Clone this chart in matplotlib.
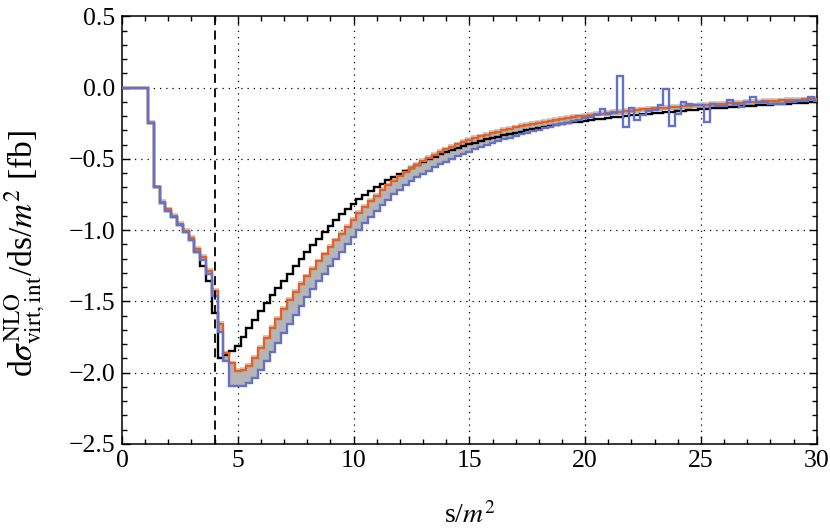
import numpy as np
import matplotlib
matplotlib.use("Agg")
import matplotlib.pyplot as plt
from matplotlib.ticker import MultipleLocator, FuncFormatter

plt.rcParams['font.family'] = ['Liberation Serif', 'DejaVu Serif']
plt.rcParams['mathtext.fontset'] = 'stix'
plt.rcParams['axes.unicode_minus'] = True

# bin centres s/m^2 (width 0.25)
s_centres = np.arange(0, 30.001, 0.25)

black_ref = [0, 0, 0, 0, 0, -0.25, -0.70, -0.81, -0.865, -0.91,
             -0.965, -1.015, -1.07, -1.15, -1.25, -1.355, -1.58, -1.895, -1.875, -1.85,
             -1.81, -1.75, -1.69, -1.63, -1.57, -1.51, -1.455, -1.405, -1.355, -1.305,
             -1.255, -1.205, -1.155, -1.107, -1.06, -1.015, -0.972, -0.93, -0.89, -0.851,
             -0.815, -0.785, -0.755, -0.727, -0.70, -0.675, -0.65, -0.627, -0.605, -0.583,
             -0.562, -0.542, -0.522, -0.503, -0.485, -0.468, -0.452, -0.437, -0.423, -0.41,
             -0.398, -0.386, -0.375, -0.364, -0.354, -0.344, -0.335, -0.326, -0.317, -0.309,
             -0.301, -0.293, -0.286, -0.278, -0.271, -0.264, -0.257, -0.251, -0.245, -0.239,
             -0.233, -0.228, -0.223, -0.218, -0.213, -0.208, -0.204, -0.199, -0.195, -0.191,
             -0.187, -0.183, -0.179, -0.175, -0.172, -0.168, -0.165, -0.161, -0.158, -0.155,
             -0.152, -0.149, -0.146, -0.143, -0.14, -0.137, -0.135, -0.132, -0.13, -0.127,
             -0.125, -0.122, -0.12, -0.117, -0.115, -0.112, -0.11, -0.108, -0.106, -0.104,
             -0.102]

orange_central = [0, 0, 0, 0, 0, -0.25, -0.70, -0.80, -0.855, -0.90,
                  -0.955, -1.005, -1.055, -1.13, -1.19, -1.285, -1.425, -1.66, -1.865, -1.935,
                  -1.985, -1.98, -1.955, -1.895, -1.825, -1.755, -1.685, -1.62, -1.555, -1.49,
                  -1.435, -1.38, -1.325, -1.27, -1.22, -1.17, -1.12, -1.072, -1.025, -0.975,
                  -0.928, -0.882, -0.838, -0.797, -0.758, -0.721, -0.686, -0.653, -0.622, -0.593,
                  -0.566, -0.54, -0.516, -0.494, -0.473, -0.453, -0.434, -0.416, -0.399, -0.383,
                  -0.368, -0.355, -0.343, -0.331, -0.32, -0.309, -0.299, -0.289, -0.28, -0.271,
                  -0.263, -0.255, -0.247, -0.24, -0.233, -0.226, -0.22, -0.214, -0.208, -0.202,
                  -0.197, -0.192, -0.187, -0.182, -0.177, -0.173, -0.169, -0.165, -0.161, -0.157,
                  -0.153, -0.15, -0.146, -0.143, -0.14, -0.137, -0.134, -0.131, -0.128, -0.125,
                  -0.122, -0.12, -0.117, -0.115, -0.112, -0.11, -0.107, -0.105, -0.103, -0.101,
                  -0.098, -0.096, -0.094, -0.092, -0.09, -0.088, -0.086, -0.085, -0.083, -0.081,
                  -0.08]

blue_lower = [0, 0, 0, 0, 0, -0.25, -0.70, -0.81, -0.865, -0.91,
              -0.965, -1.015, -1.07, -1.15, -1.21, -1.305, -1.46, -1.715, -1.92, -2.09,
              -2.095, -2.09, -2.075, -2.035, -1.98, -1.92, -1.855, -1.79, -1.725, -1.66,
              -1.595, -1.53, -1.47, -1.415, -1.36, -1.305, -1.252, -1.2, -1.15, -1.1,
              -1.05, -1.0, -0.953, -0.908, -0.865, -0.824, -0.786, -0.75, -0.716, -0.684,
              -0.656, -0.63, -0.605, -0.582, -0.56, -0.539, -0.519, -0.5, -0.482, -0.465,
              -0.449, -0.433, -0.418, -0.404, -0.39, -0.377, -0.364, -0.352, -0.34, -0.329,
              -0.318, -0.307, -0.297, -0.287, -0.277, -0.266, -0.256, -0.246, -0.236, -0.226,
              -0.215, -0.205, -0.19, -0.15, -0.185, -0.178, 0.08, -0.28, -0.14, -0.227,
              -0.19, -0.162, -0.158, -0.122, -0.01, -0.267, -0.185, -0.098, -0.118, -0.12,
              -0.125, -0.239, -0.118, -0.128, -0.128, -0.09, -0.112, -0.135, -0.1, -0.065,
              -0.1, -0.1, -0.115, -0.115, -0.113, -0.1, -0.098, -0.097, -0.097, -0.065,
              -0.092]

x_ticks = [0, 5, 10, 15, 20, 25, 30]
y_ticks = [0.5, 0.0, -0.5, -1.0, -1.5, -2.0, -2.5]
threshold = 4.0

s = np.array(s_centres)
black = np.array(black_ref)
orange = np.array(orange_central)
blue = np.array(blue_lower)
edges = np.concatenate([s - 0.125, [s[-1] + 0.125]])

band_hi = orange + np.where(orange < 0, 0.013, 0.0)
band_lo = np.where(s <= 20.5, blue, orange - 0.02)

fig = plt.figure(figsize=(8.3, 5.3), dpi=100)
ax = fig.add_axes([0.147, 0.1623, 0.837, 0.807])

ax.stairs(band_hi, edges, baseline=band_lo, fill=True, color='#b5b5b5', lw=0, zorder=2)
ax.stairs(band_hi, edges, baseline=None, color='#cacaca', lw=1.4, zorder=2.5)
ax.stairs(black, edges, baseline=None, color='black', lw=1.7, zorder=3)
ax.stairs(orange, edges, baseline=None, color='#e8601f', lw=1.7, zorder=4)
ax.stairs(blue, edges, baseline=None, color='#6471c8', lw=1.7, zorder=5)

ax.axvline(threshold, color='black', lw=1.3, ls=(0, (5, 3)), zorder=6)

ax.set_xlim(0, 30)
ax.set_ylim(-2.5, 0.5)
ax.set_xticks(x_ticks)
ax.set_yticks(y_ticks)
ax.xaxis.set_minor_locator(MultipleLocator(1))
ax.yaxis.set_minor_locator(MultipleLocator(0.1))
ax.yaxis.set_major_formatter(FuncFormatter(lambda v, p: ('%.1f' % v).replace('-', '\u2212')))
ax.tick_params(which='both', direction='in', top=True, right=True, labelsize=18.5, width=1.0)
ax.tick_params(which='major', length=6)
ax.tick_params(which='minor', length=3.5)
ax.tick_params(axis='x', pad=4)
ax.tick_params(axis='y', pad=5)
for sp in ax.spines.values():
    sp.set_linewidth(1.1)

for xv in x_ticks[1:-1]:
    ax.axvline(xv, color='black', lw=0.9, ls=(0, (1, 4)), zorder=1)
for yv in y_ticks[1:-1]:
    ax.axhline(yv, color='black', lw=0.9, ls=(0, (1, 4)), zorder=1)

ax.set_xlabel(r's/$m^2$', fontsize=20, labelpad=22)
ax.set_ylabel(r'd$\sigma^{\mathrm{NLO}}_{\mathrm{virt,int}}$/ds/$m^2$ [fb]',
              fontsize=24)
ax.yaxis.set_label_coords(-0.108, 0.445)

fig.savefig('out.png', dpi=100)
